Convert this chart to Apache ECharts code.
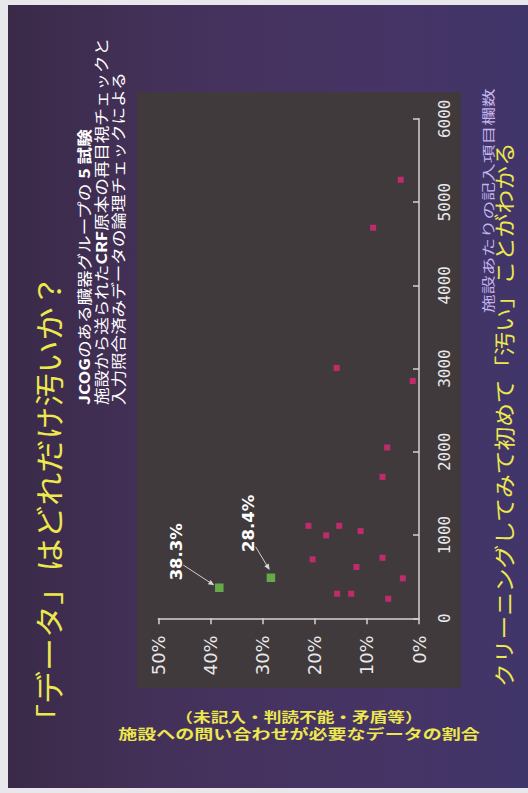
<!DOCTYPE html>
<html>
<head>
<meta charset="utf-8">
<script src="https://cdn.jsdelivr.net/npm/echarts@6/dist/echarts.min.js"></script>
<style>
  html, body { margin: 0; padding: 0; background: #e8e7ec; overflow: hidden; }
  #chart { width: 528px; height: 793px; }
</style>
</head>
<body>
<div id="chart"></div>
<script>
// ---- texts ----
const titleText = '「データ」はどれだけ汚いか？';
const noteLines = [
  '{b|JCOG}のある臓器グループの {b|5} {b|試験}',
  '施設から送られた{b|CRF}原本の再目視チェックと',
  '入力照合済みデータの論理チェックによる'
];
const rateAxisName = ['（未記入・判読不能・矛盾等）', '施設への問い合わせが必要なデータの割合'];
const fieldAxisName = '施設あたりの記入項目欄数';
const conclusionText = 'クリーニングしてみて初めて「汚い」ことがわかる';

// ---- axis ticks ----
const rateTicks = [0, 10, 20, 30, 40, 50];          // %
const fieldTicks = [0, 1000, 2000, 3000, 4000, 5000, 6000];

// ---- data: [rate of queried data (%), number of fields per site] ----
const siteRates = [
  [15.8, 3007], [1.2, 2851], [6.1, 2052], [7.0, 1699],
  [21.2, 1111], [15.3, 1111], [17.8, 996], [11.2, 1048],
  [20.4, 708], [7.0, 727], [12.0, 616], [3.1, 480],
  [15.7, 295], [13.0, 295], [5.9, 235], [3.5, 5268], [8.8, 4692]
];
const highlightedSites = [[38.3, 367], [28.4, 487]];

const FONT_JP = '"Noto Sans CJK JP"';
const YELLOW = '#ece84e';
const AXIS = '#d2d2d2';

const chart = echarts.init(document.getElementById('chart'), null, { renderer: 'svg' });

chart.setOption({
  animation: false,
  backgroundColor: '#e8e7ec',
  grid: { left: 158.3, right: 109, top: 118.8, bottom: 174.7 },
  xAxis: {
    type: 'value', inverse: true, position: 'bottom',
    min: rateTicks[0], max: rateTicks[rateTicks.length - 1],
    interval: rateTicks[1] - rateTicks[0],
    axisLine: { show: true, lineStyle: { color: AXIS, width: 1.5 } },
    axisTick: { show: true, inside: false, length: 6, lineStyle: { color: AXIS, width: 1.5 } },
    axisLabel: { rotate: 90, margin: 17, color: '#e8e8e8', fontFamily: 'DejaVu Sans', fontSize: 18,
                 formatter: v => v + '%' },
    splitLine: { show: false }
  },
  yAxis: {
    type: 'value', position: 'right',
    min: fieldTicks[0], max: fieldTicks[fieldTicks.length - 1],
    interval: fieldTicks[1] - fieldTicks[0],
    axisLine: { show: true, lineStyle: { color: AXIS, width: 1.5 } },
    axisTick: { show: true, inside: true, length: 6, lineStyle: { color: AXIS, width: 1.5 } },
    axisLabel: { rotate: 90, margin: 17, color: '#e8e8e8', fontFamily: 'DejaVu Sans Mono', fontSize: 16,
                 formatter: v => String(v) },
    splitLine: { show: false }
  },
  series: [
    { type: 'scatter', data: siteRates, symbol: 'rect', symbolSize: 6,
      itemStyle: { color: '#e02878' }, z: 3 },
    { type: 'scatter', data: highlightedSites, symbol: 'rect', symbolSize: 8.5,
      itemStyle: { color: '#70c64e' }, z: 4 }
  ]
});

// label and arrow placement around each highlighted point (pixel offsets)
const calloutLayout = [
  { label: [-42.6, -36], from: [-36, -22.7], to: [-5, -2.4] },
  { label: [-22, -54.4], from: [-15.3, -31], to: [-1.3, -7.7] }
];

function callouts() {
  const els = [];
  highlightedSites.forEach((p, i) => {
    const [px, py] = chart.convertToPixel({ gridIndex: 0 }, p);
    const o = calloutLayout[i];
    els.push({
      type: 'text', x: px + o.label[0], y: py + o.label[1], rotation: Math.PI / 2, z: 20,
      style: { text: p[0].toFixed(1) + '%', fill: '#ffffff', fontFamily: 'DejaVu Sans',
               fontWeight: 'bold', fontSize: 16.5, align: 'center', verticalAlign: 'middle' }
    });
    const x1 = px + o.from[0], y1 = py + o.from[1], x2 = px + o.to[0], y2 = py + o.to[1];
    const a = Math.atan2(y2 - y1, x2 - x1), L = 6, W = 2.6;
    els.push({ type: 'line', z: 20, shape: { x1, y1, x2: x2 - Math.cos(a) * L * 0.6, y2: y2 - Math.sin(a) * L * 0.6 },
               style: { stroke: '#cfcfcf', lineWidth: 1 } });
    els.push({ type: 'polygon', z: 20, shape: { points: [
      [x2, y2],
      [x2 - Math.cos(a) * L - Math.sin(a) * W, y2 - Math.sin(a) * L + Math.cos(a) * W],
      [x2 - Math.cos(a) * L + Math.sin(a) * W, y2 - Math.sin(a) * L - Math.cos(a) * W]
    ] }, style: { fill: '#d8d8d8' } });
  });
  return els;
}

const richBold = { b: { fontWeight: 'bold', fontSize: 15, fontFamily: FONT_JP, fill: '#ffffff' } };

const decorations = [
  // slide background
  { type: 'rect', z: -20, shape: { x: 8, y: 5, width: 520, height: 783 },
    style: { fill: { type: 'linear', x: 0, y: 0, x2: 1, y2: 0, colorStops: [
      { offset: 0, color: '#3a2a48' }, { offset: 0.3, color: '#44315a' },
      { offset: 0.75, color: '#463466' }, { offset: 1, color: '#403569' } ] } } },
  // plot panel
  { type: 'rect', z: -10, shape: { x: 137, y: 92, width: 324, height: 596 },
    style: { fill: '#403a3d' } },
  // title
  { type: 'text', x: 48, y: 737, rotation: Math.PI / 2, scaleX: 1.14, z: 10,
    style: { text: titleText, fill: YELLOW, fontFamily: FONT_JP, fontSize: 29,
             align: 'left', verticalAlign: 'middle' } },
  // source note
  ...noteLines.map((t, i) => ({
    type: 'text', x: 84 + i * 17, y: 405, rotation: Math.PI / 2, scaleX: 1.17, z: 10,
    style: { text: t, rich: richBold, fill: '#ffffff', fontFamily: FONT_JP, fontSize: 15,
             align: 'left', verticalAlign: 'middle' }
  })),
  // rate axis name (two lines)
  { type: 'text', x: 299, y: 716, scaleX: 1.31, z: 10,
    style: { text: rateAxisName[0], fill: YELLOW, fontFamily: FONT_JP, fontWeight: 'bold', fontSize: 13.5,
             align: 'center', verticalAlign: 'middle' } },
  { type: 'text', x: 299, y: 733, scaleX: 1.41, z: 10,
    style: { text: rateAxisName[1], fill: YELLOW, fontFamily: FONT_JP, fontWeight: 'bold', fontSize: 13.5,
             align: 'center', verticalAlign: 'middle' } },
  // field axis name
  { type: 'text', x: 487, y: 313, rotation: Math.PI / 2, scaleX: 1.44, z: 10,
    style: { text: fieldAxisName, fill: '#c4b4ec', fontFamily: FONT_JP, fontSize: 13,
             align: 'left', verticalAlign: 'middle' } },
  // conclusion
  { type: 'text', x: 503, y: 687, rotation: Math.PI / 2, scaleX: 1.13, z: 10,
    style: { text: conclusionText, fill: YELLOW, fontFamily: FONT_JP, fontSize: 21,
             align: 'left', verticalAlign: 'middle' } }
];

chart.setOption({ graphic: { elements: decorations.concat(callouts()) } });
</script>
</body>
</html>
